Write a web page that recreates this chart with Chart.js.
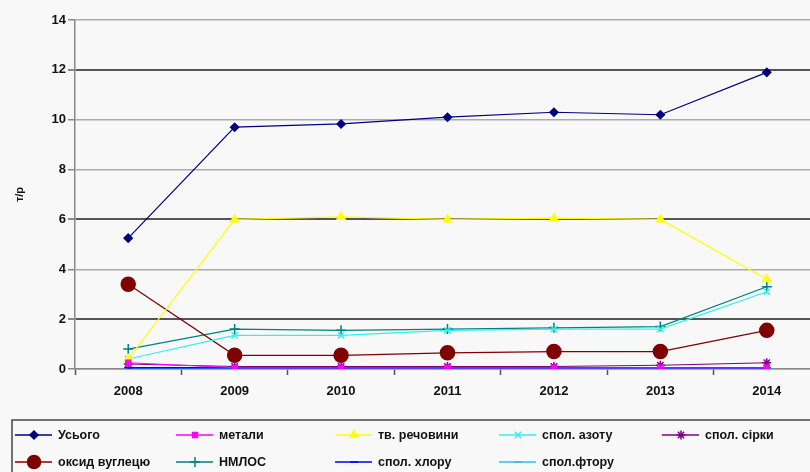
<!DOCTYPE html>
<html lang="uk">
<head>
    <meta charset="UTF-8">
    <title>Викиди</title>
    <script src="https://cdn.jsdelivr.net/npm/chart.js"></script>
    <style>
        html, body { margin: 0; padding: 0; background: #f8f8f8; overflow: hidden; }
        #wrap { width: 830px; height: 472px; }
    </style>
</head>
<body>
    <div id="wrap"><canvas id="myChart" width="830" height="472"></canvas></div>
    <script>
        // data
        const years = ['2008', '2009', '2010', '2011', '2012', '2013', '2014'];
        const total = [5.25, 9.7, 9.83, 10.1, 10.3, 10.2, 11.9];
        const metals = [0.25, 0.05, 0.05, 0.05, 0.05, 0.05, 0.05];
        const solids = [0.4, 6.0, 6.1, 6.0, 6.05, 6.0, 3.6];
        const nitrogen = [0.4, 1.35, 1.35, 1.55, 1.6, 1.6, 3.1];
        const sulfur = [0.2, 0.1, 0.1, 0.1, 0.1, 0.15, 0.25];
        const carbonOx = [3.4, 0.55, 0.55, 0.65, 0.7, 0.7, 1.55];
        const nmvoc = [0.8, 1.6, 1.55, 1.6, 1.65, 1.7, 3.3];
        const chlorine = [0.05, 0.05, 0.05, 0.05, 0.05, 0.05, 0.05];
        const fluorine = [0.02, 0.02, 0.02, 0.02, 0.02, 0.02, 0.0];
        const yTicks = [0, 2, 4, 6, 8, 10, 12, 14];

        const FONT = 'Liberation Sans, Arial, sans-serif';

        function series(label, data, color, style, radius, width) {
            return {
                label: label,
                data: data,
                borderColor: color,
                backgroundColor: color,
                borderWidth: width || 1.2,
                pointStyle: style,
                pointRadius: radius,
                pointBorderWidth: 1.5,
                tension: 0,
                fill: false,
            };
        }

        const datasets = [
            series('Усього', total, '#000080', 'rectRot', 4),
            series('метали', metals, '#ff00ff', 'rect', 3.5),
            series('тв. речовини', solids, '#ffff00', 'triangle', 4.5),
            series('спол. азоту', nitrogen, '#33eeee', 'crossRot', 4.5),
            series('спол. сірки', sulfur, '#800080', 'star', 4.5),
            series('оксид вуглецю', carbonOx, '#800000', 'circle', 7),
            series('НМЛОС', nmvoc, '#008080', 'cross', 5),
            series('спол. хлору', chlorine, '#0000ff', 'line', 4, 1.5),
            series('спол.фтору', fluorine, '#33bbee', 'line', 4, 1.5),
        ];
        // legend positions: order in the picture (row, column)
        const legendRows = [[0, 1, 2, 3, 4], [5, 6, 7, 8]];
        const legendCols = [58, 219, 378, 542, 705];

        function marker(ctx, ds, x, y, r) {
            ctx.fillStyle = ds.backgroundColor;
            ctx.strokeStyle = ds.borderColor;
            ctx.lineWidth = 1.5;
            Chart.helpers.drawPoint(ctx, { pointStyle: ds.pointStyle, radius: r, rotation: 0, borderWidth: 1.5 }, x, y);
        }

        const boxLegend = {
            id: 'boxLegend',
            afterDraw(chart) {
                const ctx = chart.ctx;
                ctx.save();
                ctx.strokeStyle = '#444';
                ctx.lineWidth = 1.5;
                ctx.strokeRect(12, 420, 840, 80);
                ctx.font = 'bold 12.5px ' + FONT;
                ctx.textBaseline = 'middle';
                ctx.textAlign = 'left';
                legendRows.forEach((row, r) => {
                    const y = 435 + r * 27;
                    row.forEach((i, c) => {
                        const ds = datasets[i];
                        const tx = legendCols[c];
                        ctx.strokeStyle = ds.borderColor;
                        ctx.lineWidth = 1.5;
                        ctx.beginPath();
                        ctx.moveTo(tx - 43, y);
                        ctx.lineTo(tx - 6, y);
                        ctx.stroke();
                        marker(ctx, ds, tx - 24, y, Math.min(ds.pointRadius, 6.5));
                        ctx.fillStyle = '#111';
                        ctx.fillText(ds.label, tx, y + 1);
                    });
                });
                ctx.restore();
            }
        };

        const darkLines = [2, 6, 12];

        const ctx = document.getElementById('myChart').getContext('2d');
        const myChart = new Chart(ctx, {
            type: 'line',
            data: { labels: years, datasets: datasets },
            plugins: [boxLegend],
            options: {
                responsive: false,
                animation: false,
                layout: { padding: { top: 20, right: 10, bottom: 73, left: 0 } },
                plugins: { legend: { display: false }, tooltip: { enabled: false } },
                scales: {
                    x: {
                        offset: true,
                        grid: { display: true, offset: true, drawOnChartArea: false, tickLength: 6, tickColor: '#555', tickWidth: 1.5 },
                        border: { color: '#888', width: 1.5 },
                        ticks: { color: '#111', font: { family: FONT, size: 13, weight: 'bold' }, padding: 9 },
                        afterFit(scale) { scale.height = 30; },
                    },
                    y: {
                        min: 0,
                        max: 14,
                        afterBuildTicks(scale) { scale.ticks = yTicks.map(v => ({ value: v })); },
                        grid: {
                            color: c => darkLines.includes(c.tick && c.tick.value) ? '#555' : '#aaa',
                            lineWidth: c => darkLines.includes(c.tick && c.tick.value) ? 2 : 1.5,
                            tickLength: 7,
                            tickColor: '#888',
                        },
                        border: { color: '#888', width: 1.5 },
                        ticks: { color: '#111', font: { family: FONT, size: 13, weight: 'bold' }, padding: 2 },
                        title: { display: true, text: 'т/р', color: '#111', font: { family: FONT, size: 11, weight: 'bold' }, padding: { top: 13, bottom: 0 } },
                        afterFit(scale) { scale.width = 75; },
                    },
                },
            },
        });
    </script>
</body>
</html>
